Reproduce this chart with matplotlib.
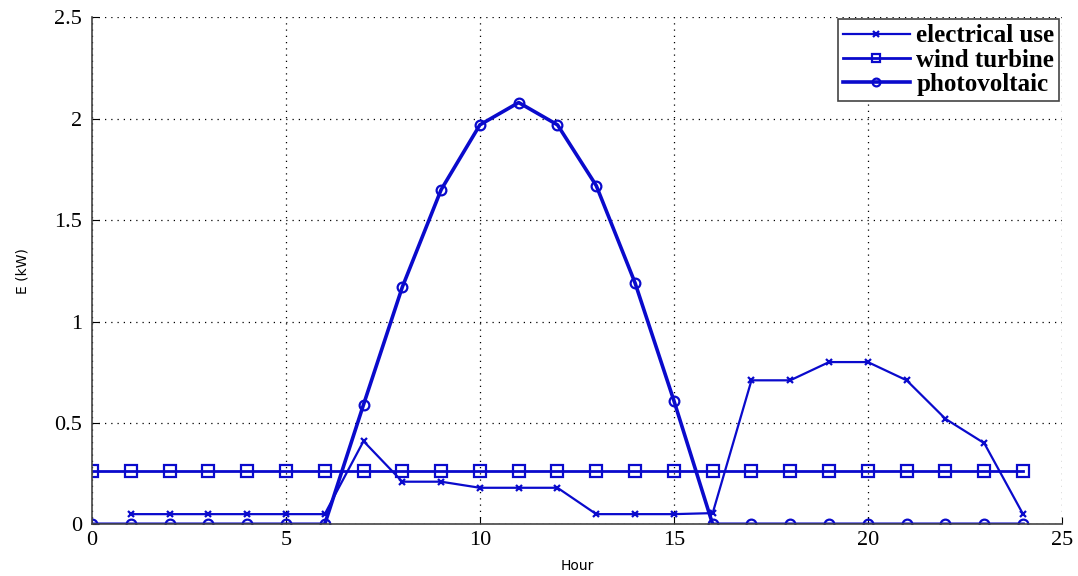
import matplotlib
matplotlib.use("Agg")
import matplotlib.pyplot as plt

hours_use = list(range(1, 25))
electrical_use = [0.05, 0.05, 0.05, 0.05, 0.05, 0.05, 0.41, 0.21, 0.21, 0.18, 0.18, 0.18,
                  0.05, 0.05, 0.05, 0.055, 0.71, 0.71, 0.80, 0.80, 0.71, 0.52, 0.40, 0.05]
hours = list(range(0, 25))
wind_turbine = [0.265] * 25
photovoltaic = [0, 0, 0, 0, 0, 0, 0, 0.59, 1.17, 1.65, 1.97, 2.08, 1.97, 1.67, 1.19, 0.61,
                0, 0, 0, 0, 0, 0, 0, 0, 0]
xticks = [0, 5, 10, 15, 20, 25]
yticks = [0, 0.5, 1, 1.5, 2, 2.5]
ytick_labels = ["0", "0.5", "1", "1.5", "2", "2.5"]

blue = "#0a0acc"
fig = plt.figure(figsize=(10.78, 5.76), dpi=100)
ax = fig.add_axes([0.0853, 0.0898, 0.8997, 0.880])

ax.plot(hours_use, electrical_use, color=blue, lw=1.6, marker="x", ms=5, mew=1.6,
        label="electrical use")
ax.plot(hours, wind_turbine, color=blue, lw=2.0, marker="s", ms=8, mfc="none", mew=1.6,
        label="wind turbine")
ax.plot(hours, photovoltaic, color=blue, lw=2.6, marker="o", ms=7, mfc="none", mew=1.6,
        label="photovoltaic")

ax.set_xlim(0, 25)
ax.set_ylim(0, 2.5)
ax.set_xticks(xticks)
ax.set_yticks(yticks)
ax.set_xticklabels([str(t) for t in xticks], family="Liberation Serif", fontsize=16)
ax.set_yticklabels(ytick_labels, family="Liberation Serif", fontsize=16)
ax.tick_params(direction="in", length=5)
ax.tick_params(axis="x", pad=5)
ax.tick_params(axis="y", pad=7)
ax.grid(True, linestyle=(0, (1, 4)), color="black", lw=0.9)
for s in ["top", "right"]:
    ax.spines[s].set_visible(False)
for s in ["left", "bottom"]:
    ax.spines[s].set_color("#444444")
    ax.spines[s].set_linewidth(1.2)

ax.set_xlabel("Hour", fontsize=10, family="DejaVu Sans", labelpad=6)
ax.set_ylabel("E (kW)", fontsize=10, family="DejaVu Sans", labelpad=18)

leg = ax.legend(loc="upper right",
                prop={"family": "Liberation Serif", "size": 18, "weight": "bold"},
                fancybox=False, framealpha=1, edgecolor="#444444", handlelength=2.7,
                borderpad=0.2, labelspacing=0.05, handletextpad=0.25, borderaxespad=0.0,
                markerscale=0.8, bbox_to_anchor=(0.9975, 0.996))
leg.get_frame().set_linewidth(1.2)

fig.savefig("out.png", dpi=100)
